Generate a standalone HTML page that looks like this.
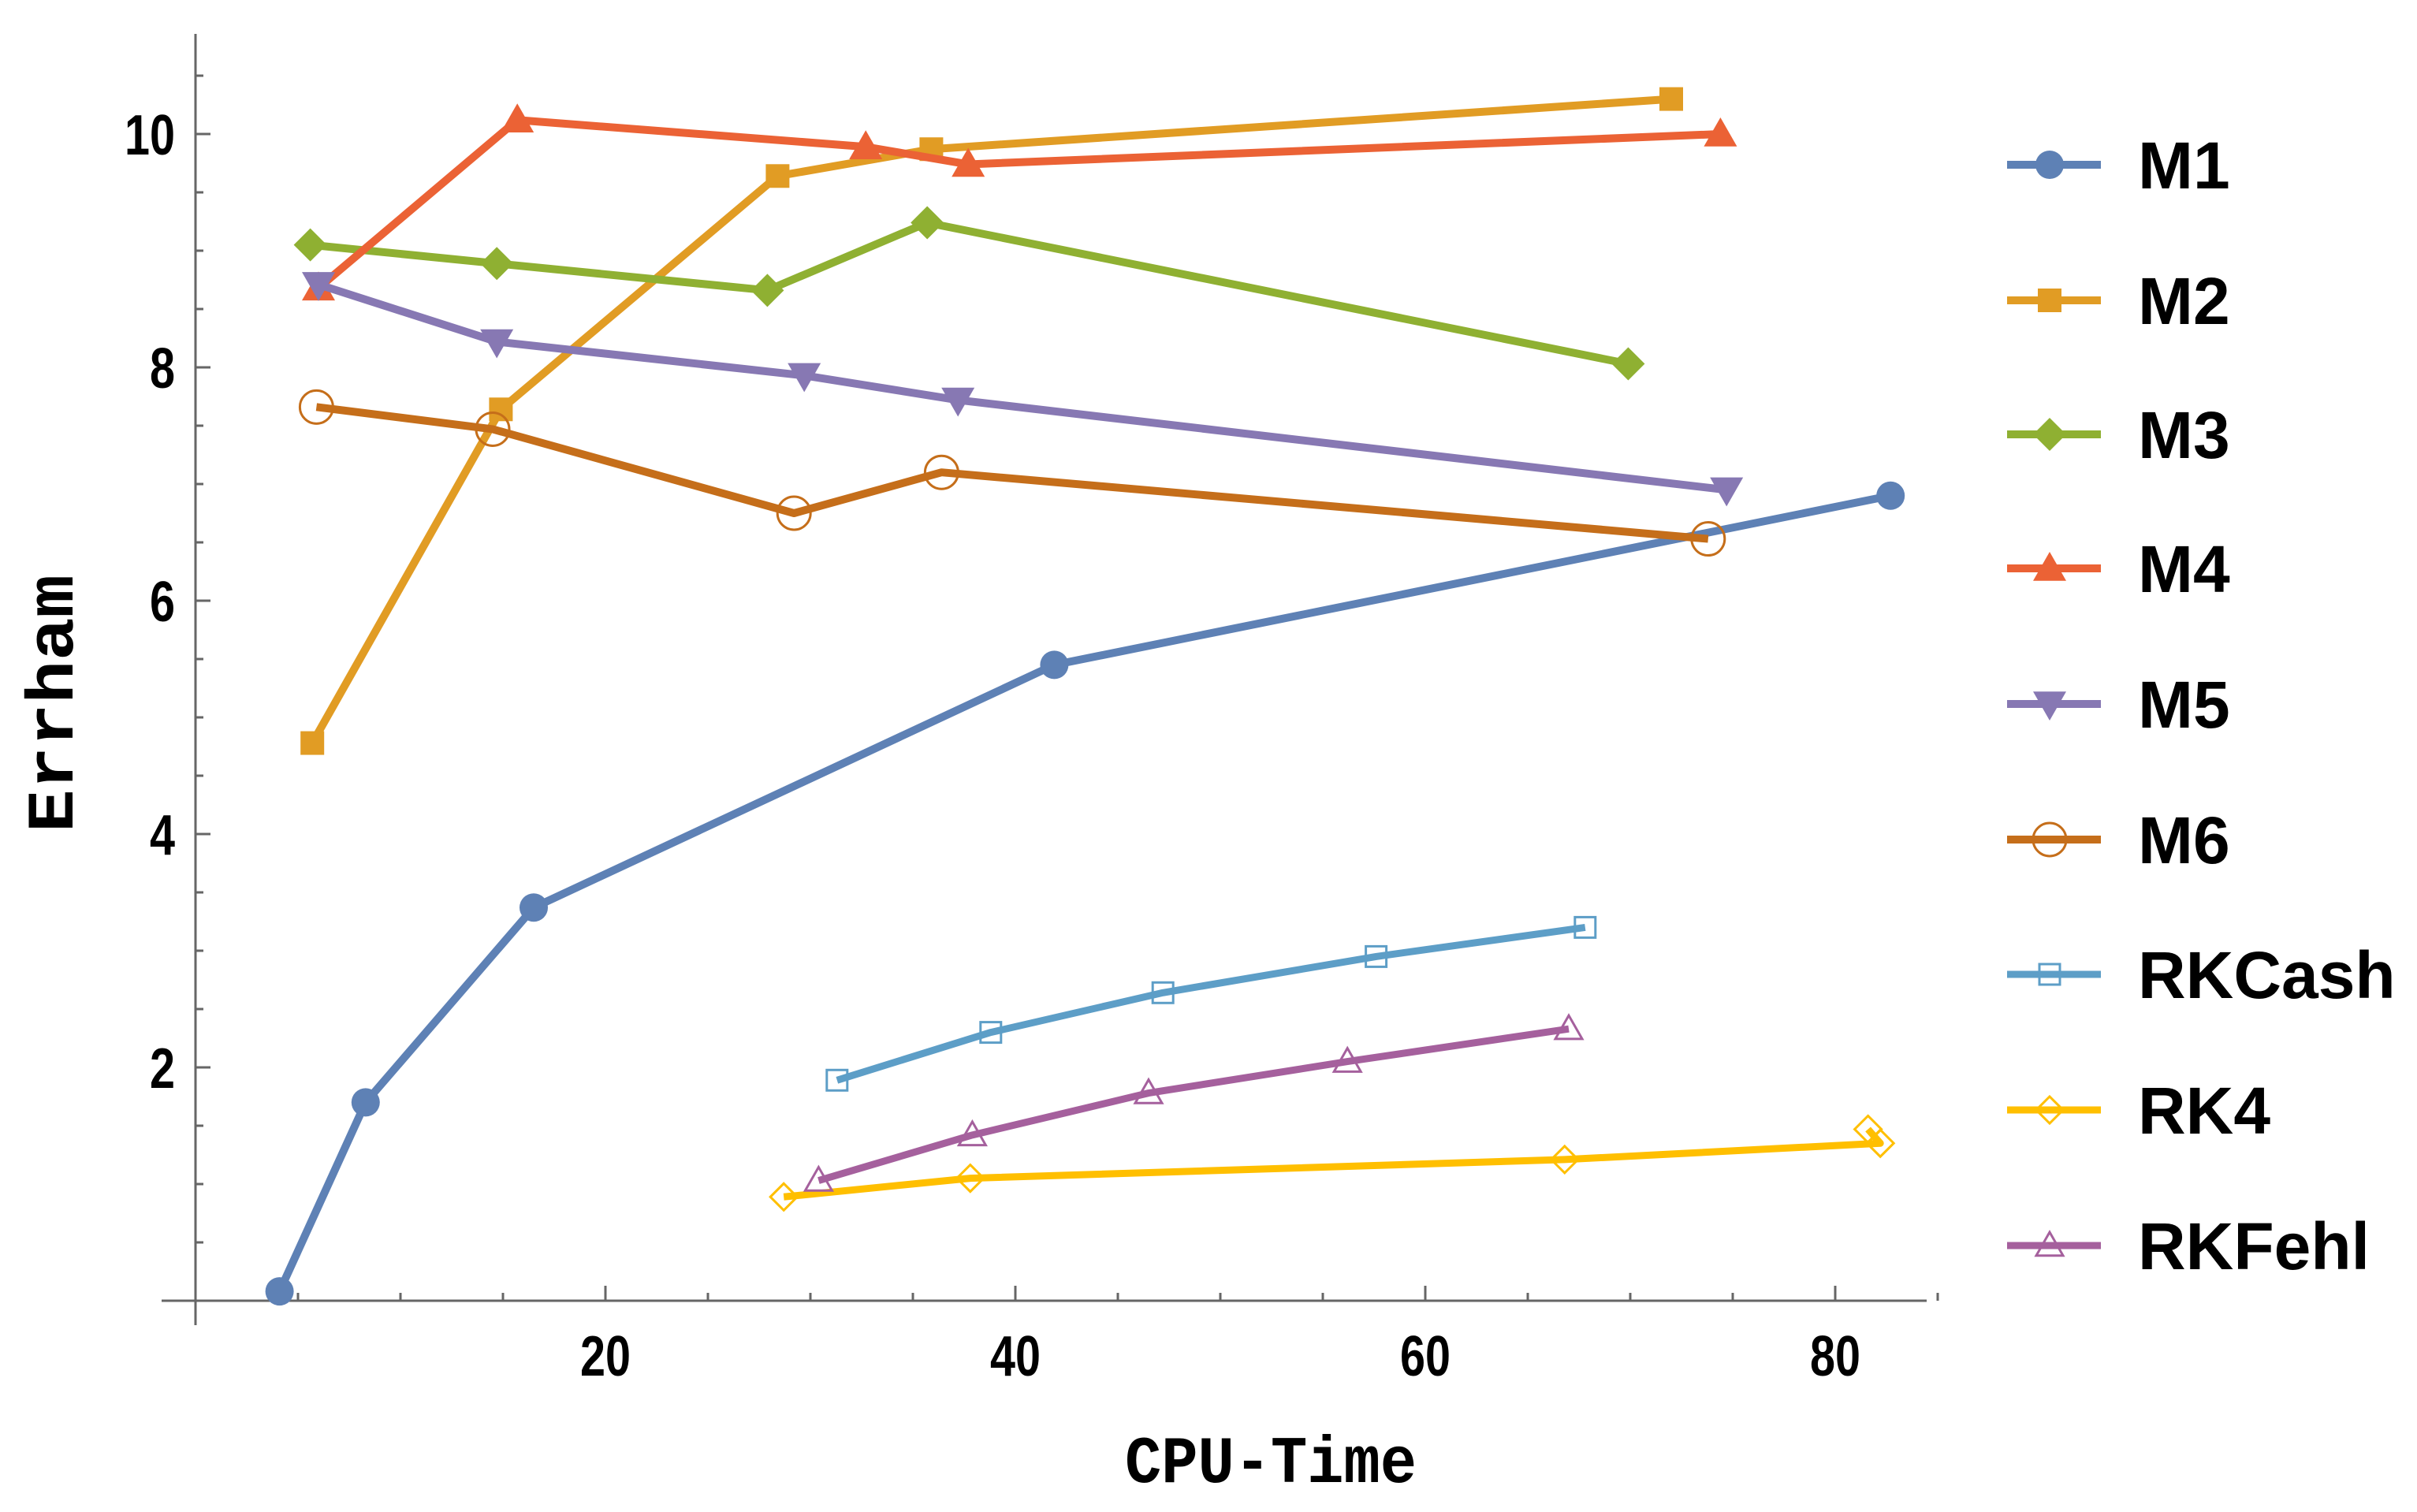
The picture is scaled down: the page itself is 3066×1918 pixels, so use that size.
<!DOCTYPE html>
<html><head><meta charset="utf-8"><style>
html,body{margin:0;padding:0;background:#fff;}
svg{display:block;}
</style></head><body>
<svg id="chart" width="3066" height="1918" viewBox="0 0 3066 1918" xmlns="http://www.w3.org/2000/svg">
<g id="axes"></g>
<g id="series"></g>
<g id="legend"></g>
<text x="1427" y="1880" textLength="370" lengthAdjust="spacingAndGlyphs" font-family="Liberation Mono, monospace" font-weight="bold" font-size="84">CPU-Time</text>
<text transform="translate(92,1056) rotate(-90)" textLength="327" lengthAdjust="spacingAndGlyphs" font-family="Liberation Mono, monospace" font-weight="bold" font-size="84">Errham</text>
</svg>
<script>
const seriesNames = ["M1","M2","M3","M4","M5","M6","RKCash","RK4","RKFehl"];
const m1x = [4.1,8.3,16.5,41.9,82.7];       const m1y = [0.08,1.7,3.37,5.45,6.9];
const m2x = [5.7,14.9,28.4,35.9,72];        const m2y = [4.78,7.64,9.64,9.87,10.3];
const m3x = [5.6,14.7,27.9,35.7,69.9];      const m3y = [9.05,8.89,8.66,9.24,8.03];
const m4x = [6,15.7,32.7,37.7,74.4];        const m4y = [8.68,10.12,9.89,9.74,10.0];
const m5x = [6,14.7,29.7,37.2,74.7];        const m5y = [8.71,8.22,7.93,7.72,6.95];
const m6x = [5.9,14.5,29.2,36.4,73.8];      const m6y = [7.66,7.47,6.75,7.1,6.53];
const rkcx = [31.3,38.8,47.2,57.6,67.8];    const rkcy = [1.89,2.3,2.64,2.95,3.2];
const rk4x = [28.7,37.8,66.8,82.2,81.6];    const rk4y = [0.89,1.05,1.21,1.35,1.47];
const rkfx = [30.4,37.9,46.5,56.2,67.0];    const rkfy = [1.03,1.42,1.78,2.05,2.33];
const xTicks = [20,40,60,80];
const yTicks = [2,4,6,8,10];

const NS="http://www.w3.org/2000/svg";
function X(v){return 248+26.0*v;}
function Y(v){return 1650-148*v;}
function mk(tag,attrs,parent){const e=document.createElementNS(NS,tag);for(const k in attrs)e.setAttribute(k,attrs[k]);parent.appendChild(e);return e;}

const axes=document.getElementById('axes');
let ax=mk('line',{x1:205,y1:Y(0),x2:2444,y2:Y(0),stroke:'#666','stroke-width':3},axes);


let ay=mk('line',{x1:X(0),y1:43,x2:X(0),y2:1681,stroke:'#666','stroke-width':3},axes);


for(let v=5;v<=85;v+=5){
  const maj=xTicks.includes(v);
  const t=mk('line',{x1:X(v),y1:Y(0),x2:X(v),y2:Y(0)-(maj?19:10),stroke:'#666','stroke-width':3},axes);
  
  
}
for(let v=0.5;v<=10.5;v+=0.5){
  const maj=yTicks.includes(v);
  const t=mk('line',{x1:X(0),y1:Y(v),x2:X(0)+(maj?19:10),y2:Y(v),stroke:'#666','stroke-width':3},axes);
  
  
}
xTicks.forEach(v=>{
  const t=mk('text',{x:X(v),y:1745,'text-anchor':'middle','font-family':'Liberation Sans, sans-serif','font-weight':'bold','font-size':72,textLength:(String(v).length*32),lengthAdjust:'spacingAndGlyphs'},axes);
  t.textContent=v;
  
  
});
yTicks.forEach(v=>{
  const s=String(v);
  const w=s.length*32;
  const t=mk('text',{x:222-w,y:Y(v)+26,'font-family':'Liberation Sans, sans-serif','font-weight':'bold','font-size':72,textLength:w,lengthAdjust:'spacingAndGlyphs'},axes);
  t.textContent=s;
  
  
});

const colors=["#5e81b5","#e19c24","#8fb032","#eb6235","#8778b3","#c56e1a","#5d9ec7","#ffbf00","#a5609d"];
const shapes=["circle","square","diamond","tri","itri","ocircle","osquare","odiamond","otri"];
const widths=[10,10,10,10,10,10,9,9,9];
const xs=[m1x,m2x,m3x,m4x,m5x,m6x,rkcx,rk4x,rkfx];
const ys=[m1y,m2y,m3y,m4y,m5y,m6y,rkcy,rk4y,rkfy];

function marker(shape,cx,cy,col,g,scale){
  const s=scale||1;
  const open=shape[0]==='o';
  const base=open?shape.slice(1):shape;
  const st={fill:open?'none':col,stroke:col,'stroke-width':open?3:0};
  let e;
  if(base==='circle'){e=mk('circle',Object.assign({cx:cx,cy:cy,r:(open?21:18)*s},st),g);}
  else if(base==='square'){const h=(open?13:15)*s;e=mk('rect',Object.assign({x:cx-h,y:cy-h,width:2*h,height:2*h},st),g);}
  else if(base==='diamond'){const h=(open?17:21)*s;e=mk('polygon',Object.assign({points:`${cx},${cy-h} ${cx+h},${cy} ${cx},${cy+h} ${cx-h},${cy}`},st),g);}
  else if(base==='tri'){const h=(open?17:21)*s;e=mk('polygon',Object.assign({points:`${cx},${cy-h} ${cx+h},${cy+h*0.75} ${cx-h},${cy+h*0.75}`},st),g);}
  else if(base==='itri'){const h=21*s;e=mk('polygon',Object.assign({points:`${cx},${cy+h} ${cx+h},${cy-h*0.75} ${cx-h},${cy-h*0.75}`},st),g);}
  return e;
}

const sg=document.getElementById('series');
seriesNames.forEach((n,i)=>{
  const g=mk('g',{},sg);
  
  
  const pts=xs[i].map((x,j)=>X(x)+','+Y(ys[i][j])).join(' ');
  const pl=mk('polyline',{points:pts,fill:'none',stroke:colors[i],'stroke-width':widths[i],'stroke-linejoin':'round'},g);
  
  
  xs[i].forEach((x,j)=>{
    const m=marker(shapes[i],X(x),Y(ys[i][j]),colors[i],g);
    
    
  });
});

const lg=document.getElementById('legend');
const rowY=[209,381,551,721,893,1065,1236,1408,1580];
seriesNames.forEach((n,i)=>{
  const g=mk('g',{},lg);
  
  
  const y=rowY[i];
  const l=mk('line',{x1:2546,y1:y,x2:2665,y2:y,stroke:colors[i],'stroke-width':widths[i]},g);
  
  
  const m=marker(shapes[i],2600,y,colors[i],g);
  
  
  const t=mk('text',{x:2712,y:y+30,'font-family':'Liberation Sans, sans-serif','font-weight':'bold','font-size':84},g);
  t.textContent=n;
  
  
});
</script>
</body></html>
